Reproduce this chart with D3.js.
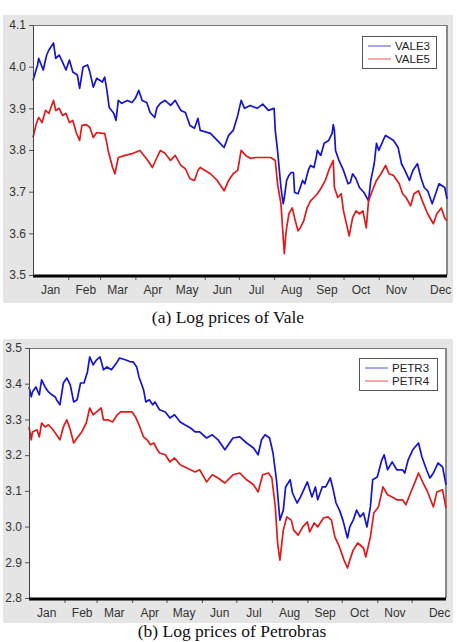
<!DOCTYPE html>
<html>
<head>
<meta charset="utf-8">
<script src="https://cdn.jsdelivr.net/npm/d3@7"></script>
<style>
body { margin: 0; background: #fff; }
svg { display: block; font-family: "Liberation Sans", Arial, sans-serif; }
.axis text { font-size: 12px; fill: #333; }
.legend text { font-size: 11.5px; fill: #222; }
.caption { font-family: "Liberation Serif", "DejaVu Serif", serif; font-size: 17.5px; fill: #111; }
</style>
</head>
<body>
<div id="chart-area"></div>
<script>

// Year of the data (2011), days counted from Jan 1
var year = 2011;

// Tick labels
var valeTicks = [3.5, 3.6, 3.7, 3.8, 3.9, 4.0, 4.1];
var petroTicks = [2.8, 2.9, 3.0, 3.1, 3.2, 3.3, 3.4, 3.5];

// Vale, log prices
var vale3Days = [0,4,5,9,12,14,18,20,23,26,29,32,35,39,41,44,48,50,53,56,61,63,65,67,71,73,75,78,83,87,90,93,96,100,103,107,109,112,116,121,125,130,134,138,142,145,147,156,162,168,172,176,180,183,186,191,197,202,207,212,213,215,218,220,221,223,225,227,229,230,233,235,237,239,242,244,247,249,250,253,256,260,263,264,265,266,269,273,277,279,281,284,287,291,295,297,300,302,304,309,310,314,317,321,324,327,331,334,338,341,344,347,351,354,357,362,364];
var vale3 = [3.967,4.004,4.020,3.992,4.028,4.040,4.057,4.020,4.028,4.011,3.992,4.016,3.987,3.980,3.948,3.999,4.004,3.987,3.951,3.972,3.963,3.975,3.943,3.902,3.888,3.871,3.919,3.912,3.919,3.914,3.924,3.943,3.919,3.914,3.890,3.878,3.902,3.912,3.919,3.907,3.919,3.895,3.890,3.859,3.852,3.876,3.847,3.840,3.823,3.806,3.835,3.847,3.883,3.919,3.900,3.907,3.900,3.910,3.895,3.900,3.847,3.799,3.710,3.671,3.686,3.727,3.739,3.746,3.746,3.698,3.695,3.710,3.727,3.719,3.751,3.763,3.758,3.782,3.799,3.787,3.816,3.823,3.840,3.861,3.847,3.799,3.775,3.751,3.719,3.722,3.743,3.731,3.710,3.698,3.678,3.727,3.767,3.816,3.799,3.830,3.835,3.828,3.823,3.806,3.767,3.751,3.727,3.751,3.767,3.734,3.710,3.702,3.671,3.695,3.719,3.710,3.683];

var vale5Days = [0,3,5,8,11,14,18,20,23,26,29,32,35,38,41,43,47,50,53,56,61,63,65,66,70,72,75,81,88,94,101,105,109,112,116,121,125,130,134,138,142,145,147,156,162,168,172,176,180,183,187,191,196,203,209,213,215,218,220,221,222,223,225,228,230,233,235,238,241,244,247,250,253,257,260,264,265,268,271,273,277,278,281,284,287,290,293,295,299,302,306,310,313,317,322,325,328,332,335,339,343,347,352,355,359,362,364];
var vale5 = [3.830,3.864,3.878,3.866,3.895,3.888,3.919,3.895,3.900,3.883,3.888,3.866,3.871,3.842,3.823,3.859,3.861,3.854,3.830,3.842,3.840,3.840,3.816,3.799,3.758,3.743,3.782,3.787,3.792,3.799,3.775,3.758,3.782,3.799,3.792,3.775,3.787,3.763,3.755,3.731,3.727,3.751,3.758,3.743,3.727,3.702,3.727,3.743,3.751,3.799,3.787,3.780,3.782,3.782,3.782,3.775,3.719,3.671,3.589,3.551,3.589,3.613,3.647,3.661,3.637,3.606,3.613,3.630,3.661,3.678,3.686,3.695,3.707,3.727,3.751,3.775,3.710,3.686,3.695,3.654,3.606,3.594,3.637,3.654,3.647,3.654,3.613,3.678,3.707,3.727,3.743,3.763,3.743,3.739,3.719,3.695,3.686,3.666,3.695,3.702,3.673,3.647,3.623,3.647,3.661,3.637,3.630];

// Petrobras, log prices
var petr3Days = [0,2,3,6,9,11,14,17,20,23,24,27,30,33,36,39,42,45,48,51,53,56,59,62,65,68,72,77,79,84,89,91,94,96,100,102,105,108,110,113,114,119,123,127,132,136,141,145,149,155,160,165,171,178,184,190,196,200,203,206,210,213,216,219,222,224,228,230,234,237,239,243,247,250,252,256,259,263,265,268,271,274,278,280,283,286,289,292,295,298,300,304,308,310,313,317,321,326,328,331,335,340,343,347,350,353,357,361,364];
var petr3 = [3.391,3.363,3.377,3.391,3.369,3.411,3.391,3.377,3.369,3.363,3.355,3.341,3.402,3.416,3.397,3.349,3.355,3.402,3.402,3.433,3.475,3.453,3.467,3.475,3.439,3.447,3.439,3.461,3.472,3.467,3.461,3.461,3.447,3.419,3.383,3.349,3.355,3.341,3.349,3.332,3.327,3.321,3.304,3.313,3.293,3.285,3.276,3.265,3.265,3.248,3.257,3.243,3.215,3.248,3.251,3.234,3.220,3.201,3.243,3.257,3.248,3.206,3.131,3.018,3.046,3.111,3.131,3.094,3.066,3.083,3.097,3.125,3.083,3.111,3.075,3.111,3.111,3.136,3.111,3.066,3.046,3.018,2.968,2.999,3.018,3.046,3.027,3.038,2.999,3.055,3.131,3.139,3.187,3.201,3.159,3.181,3.159,3.159,3.150,3.187,3.215,3.234,3.195,3.159,3.136,3.150,3.178,3.167,3.117];

var petr4Days = [0,2,3,7,9,11,14,17,21,24,27,30,33,36,39,42,46,50,53,56,59,63,65,69,73,77,80,84,90,93,96,100,103,106,109,112,114,119,123,127,132,136,141,145,149,155,160,165,171,178,184,190,196,200,204,209,212,215,217,219,222,225,229,231,235,239,243,245,249,252,257,261,264,267,271,275,278,280,283,287,292,294,298,301,305,309,313,317,321,326,329,333,337,340,344,348,353,356,361,364];
var petr4 = [3.279,3.243,3.265,3.271,3.251,3.290,3.279,3.285,3.271,3.257,3.243,3.279,3.299,3.271,3.234,3.248,3.265,3.290,3.332,3.313,3.321,3.332,3.299,3.299,3.293,3.313,3.321,3.321,3.321,3.307,3.285,3.251,3.243,3.229,3.234,3.215,3.206,3.201,3.181,3.192,3.173,3.167,3.159,3.153,3.159,3.125,3.145,3.136,3.122,3.145,3.150,3.131,3.117,3.097,3.145,3.150,3.136,3.055,2.954,2.906,2.990,3.027,3.018,2.990,2.976,2.999,3.013,2.985,3.010,2.999,3.024,3.027,3.018,2.971,2.943,2.906,2.884,2.906,2.934,2.954,2.940,2.915,2.971,3.038,3.055,3.111,3.089,3.083,3.075,3.075,3.061,3.094,3.125,3.150,3.122,3.097,3.055,3.097,3.103,3.052];

// Series colours
var blue = "#1414d2",
    red = "#e01a1a";

// SVG size
var width = 457,
    height = 642;

var svg = d3.select("#chart-area").append("svg")
    .attr("width", width)
    .attr("height", height);

function toDate(n) {
  return d3.timeDay.offset(new Date(year, 0, 1), n);
}

function drawPanel(p) {
  var g = svg.append("g");

  // grey EViews frame
  g.append("rect")
      .attr("x", p.frame[0]).attr("y", p.frame[1])
      .attr("width", p.frame[2]).attr("height", p.frame[3])
      .attr("fill", "#e5e5e5");

  // white plot area
  g.append("rect")
      .attr("x", p.left).attr("y", p.top)
      .attr("width", p.right - p.left).attr("height", p.bottom - p.top)
      .attr("fill", "#fff");

  var x = d3.scaleTime()
      .domain([new Date(year, 0, 1), new Date(year, 11, 31)])
      .range([p.left, p.right]);

  var y = d3.scaleLinear()
      .domain(d3.extent(p.ticks))
      .range([p.bottom, p.top]);

  // top and right borders
  g.append("line")
      .attr("x1", p.left).attr("x2", p.right)
      .attr("y1", p.top + 0.5).attr("y2", p.top + 0.5)
      .attr("stroke", "#777").attr("stroke-width", 1);
  g.append("line")
      .attr("x1", p.right).attr("x2", p.right)
      .attr("y1", p.top).attr("y2", p.bottom)
      .attr("stroke", "#888").attr("stroke-width", 2);

  var line = d3.line()
      .x(function(d) { return x(d.date); })
      .y(function(d) { return y(d.value); });

  p.series.forEach(function(s) {
    var pts = s.days.map(function(d, i) {
      return { date: toDate(d), value: s.values[i] };
    });
    g.append("path")
        .datum(pts)
        .attr("d", line)
        .attr("fill", "none")
        .attr("stroke", s.color)
        .attr("stroke-width", 1.7)
        .attr("stroke-linejoin", "round");
  });

  // y axis
  var yAxis = d3.axisLeft(y)
      .tickValues(p.ticks)
      .tickFormat(d3.format(".1f"))
      .tickSize(4)
      .tickSizeOuter(0)
      .tickPadding(3);

  var gy = g.append("g")
      .attr("class", "axis")
      .attr("transform", "translate(" + p.left + ",0)")
      .call(yAxis);
  gy.select(".domain").attr("stroke", "#444");
  gy.selectAll(".tick line").attr("stroke", "#555");

  // x axis: small marks at month boundaries
  var monthStarts = d3.timeMonth.range(new Date(year, 1, 1), new Date(year, 11, 2));
  var gx = g.append("g")
      .attr("class", "axis")
      .attr("transform", "translate(0," + (p.bottom + 1) + ")")
      .call(d3.axisBottom(x).tickValues(monthStarts).tickSize(4).tickFormat(""));
  gx.select(".domain").remove();
  gx.selectAll(".tick line").attr("stroke", "#555");

  // month names between the marks (last one is pushed right, as in EViews)
  var labelDates = d3.timeMonth.range(new Date(year, 0, 1), new Date(year, 12, 1))
      .map(function(m) { return d3.timeDay.offset(m, m.getMonth() === 11 ? 24 : 15); });
  var gl = g.append("g")
      .attr("class", "axis")
      .attr("transform", "translate(0," + (p.bottom + 1) + ")")
      .call(d3.axisBottom(x).tickValues(labelDates).tickSize(0).tickPadding(9)
        .tickFormat(d3.timeFormat("%b")));
  gl.select(".domain").remove();

  // thick baseline
  g.append("line")
      .attr("x1", p.left).attr("x2", p.right)
      .attr("y1", p.bottom + 1).attr("y2", p.bottom + 1)
      .attr("stroke", "#000").attr("stroke-width", 3);

  // legend
  var lg = g.append("g")
      .attr("class", "legend")
      .attr("transform", "translate(" + p.legend[0] + "," + p.legend[1] + ")");
  lg.append("rect")
      .attr("x", 0.5).attr("y", 0.5)
      .attr("width", p.legend[2]).attr("height", 32)
      .attr("fill", "#fff").attr("stroke", "#555");
  p.series.forEach(function(s, i) {
    lg.append("line")
        .attr("x1", 6).attr("x2", 29)
        .attr("y1", 10 + i * 13).attr("y2", 10 + i * 13)
        .attr("stroke", s.color).attr("stroke-width", 1).attr("opacity", 0.75);
    lg.append("text")
        .attr("x", 33).attr("y", 14 + i * 13)
        .text(s.name);
  });

  // caption
  svg.append("text")
      .attr("class", "caption")
      .attr("x", p.caption[0]).attr("y", p.caption[1])
      .attr("text-anchor", "middle")
      .text(p.caption[2]);
}

drawPanel({
  frame: [3, 15, 450, 288],
  left: 33, right: 447, top: 25, bottom: 275,
  ticks: valeTicks,
  legend: [362, 36, 74],
  caption: [228, 323, "(a) Log prices of Vale"],
  series: [
    { name: "VALE3", days: vale3Days, values: vale3, color: blue },
    { name: "VALE5", days: vale5Days, values: vale5, color: red }
  ]
});

drawPanel({
  frame: [3, 339, 450, 284],
  left: 29, right: 446, top: 348, bottom: 598,
  ticks: petroTicks,
  legend: [359, 358, 78],
  caption: [232, 637, "(b) Log prices of Petrobras"],
  series: [
    { name: "PETR3", days: petr3Days, values: petr3, color: blue },
    { name: "PETR4", days: petr4Days, values: petr4, color: red }
  ]
});

</script>
</body>
</html>
